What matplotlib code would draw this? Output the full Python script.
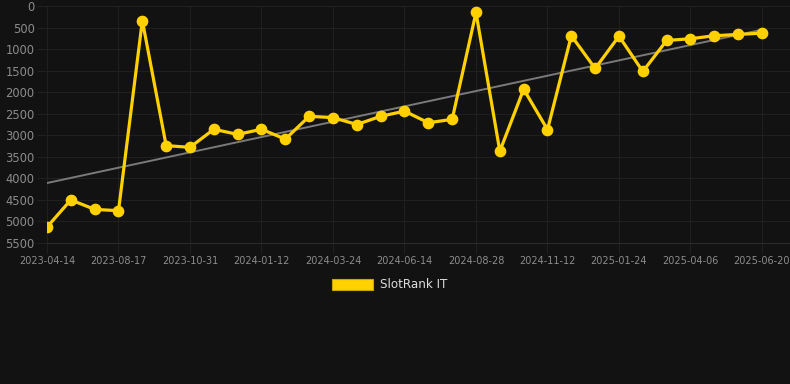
import numpy as np
import matplotlib
matplotlib.use("Agg")
from matplotlib import pyplot as plt
from matplotlib.patches import Patch

# rank values (lower is better, axis inverted)
ranks = [5130, 4500, 4720, 4750, 340, 3240, 3280, 2860, 2980, 2860,
         3090, 2560, 2590, 2750, 2560, 2440, 2710, 2630, 150, 3370,
         1930, 2870, 690, 1450, 700, 1520, 800, 760, 690, 660, 630]
tickLabels = ["2023-04-14", "2023-08-17", "2023-10-31", "2024-01-12",
              "2024-03-24", "2024-06-14", "2024-08-28", "2024-11-12",
              "2025-01-24", "2025-04-06", "2025-06-20"]
yTicks = [0, 500, 1000, 1500, 2000, 2500, 3000, 3500, 4000, 4500, 5000, 5500]
seriesName = "SlotRank IT"

bg = "#121212"
gold = "#FFD100"
gridColor = "#202020"

fig = plt.figure(figsize=(7.9, 3.84), dpi=100, facecolor=bg)
ax = fig.add_axes([47 / 790, 1 - 243 / 384, 1 - 47 / 790, (243 - 6) / 384])
ax.set_facecolor(bg)

x = np.arange(len(ranks))
slope, intercept = np.polyfit(x, ranks, 1)
ax.plot(x, slope * x + intercept, color="#7a7a7a", lw=1.4, zorder=2)
ax.plot(x, ranks, color=gold, lw=2.3, marker="o", markersize=7.4,
        solid_joinstyle="miter", zorder=3)

ax.set_ylim(5500, 0)
ax.set_xlim(0, 30 + 28 / 23.83)
ax.set_yticks(yTicks)
ax.set_xticks(x[::3])
ax.set_xticklabels(tickLabels)
ax.grid(True, color=gridColor, lw=0.8)
ax.set_axisbelow(True)
ax.tick_params(axis="y", colors=gridColor, labelcolor="#8c8c8c", labelsize=8.3,
               length=7, width=0.8, pad=2)
ax.tick_params(axis="x", colors=gridColor, labelcolor="#8c8c8c", labelsize=7,
               length=7, width=0.8, pad=2)
for spine in ax.spines.values():
    spine.set_visible(False)
ax.spines["bottom"].set_visible(True)
ax.spines["bottom"].set_color("#2a2a2a")

handle = Patch(facecolor=gold, edgecolor="#c9a400", lw=0.8)
fig.legend([handle], [seriesName], loc="center", bbox_to_anchor=(390 / 790, 1 - 285 / 384),
           frameon=False, fontsize=8.6, labelcolor="#dddddd", handlelength=3.4,
           handleheight=0.95, handletextpad=0.6)

fig.savefig("out.png", dpi=100, facecolor=bg)
